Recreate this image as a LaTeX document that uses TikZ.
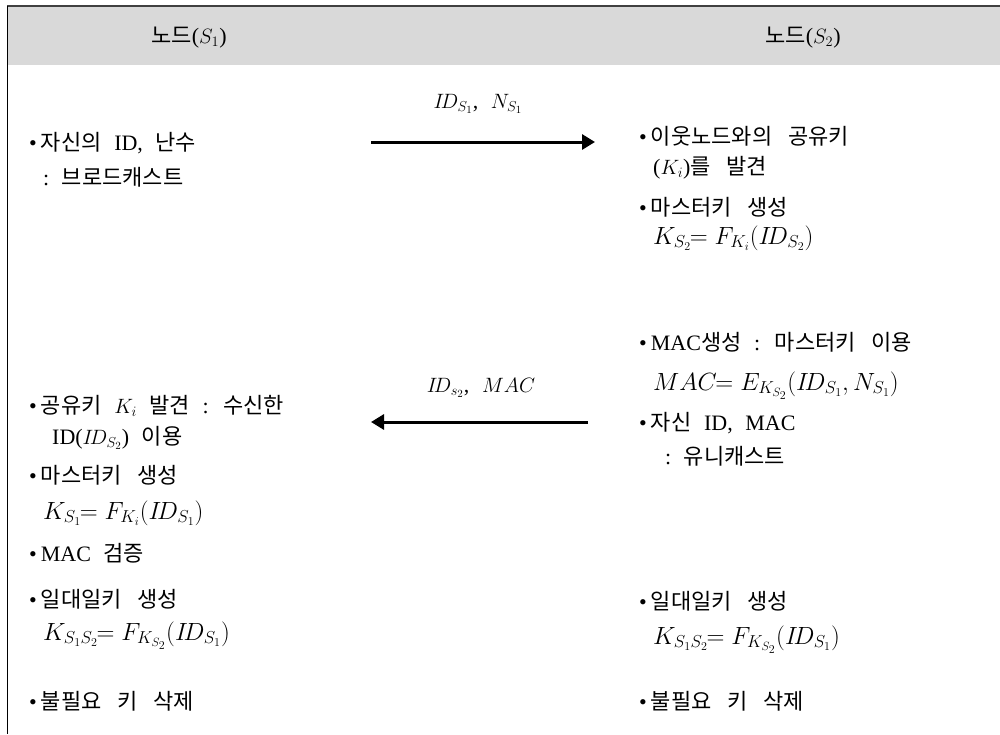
\documentclass[tikz,border=0pt]{standalone}
\usepackage{fontspec}
\setmainfont{Liberation Serif}[WordSpace=2.3]
\newfontfamily\krfont{Noto Sans CJK KR}[Scale=1.0,WordSpace=3.2]
\usetikzlibrary{arrows.meta}
\newcommand{\kr}[1]{{\krfont #1}}
\newcommand{\itm}{\textbullet\hspace{4pt}}

\tikzset{
  ln/.style={anchor=base west,inner sep=0pt,font=\fontsize{22}{26}\selectfont},
  eq/.style={ln,font=\fontsize{23}{27}\selectfont},
  hdr/.style={anchor=base,inner sep=0pt,font=\fontsize{22}{26}\selectfont},
  msg/.style={line width=3pt,-{Triangle[length=13pt,width=15pt]}}
}

\begin{document}
\begin{tikzpicture}[x=1pt,y=-1pt]
    \useasboundingbox (0,0) rectangle (1000,734);
    % header
    \fill[gray!30] (8,6) rectangle (1000,65);
    \draw[line width=1.8pt,black!75] (7,6) -- (1000,6);
    \draw[line width=1.8pt] (7.5,6) -- (7.5,734);
    \node[hdr] (head S1) at (189,43) {\kr{노드}($S_1$)};
    \node[hdr] (head S2) at (803,43) {\kr{노드}($S_2$)};
    % messages
    \coordinate (out S1) at (371,142);
    \coordinate (in S2) at (595,142);
    \coordinate (out S2) at (588,422);
    \coordinate (in S1) at (371,422);
    \draw[msg] (out S1) -- (in S2);
    \draw[msg] (out S2) -- (in S1);
    \node[hdr] (msg 1) at (478,108) {$I\!D_{S_1}$,\ $N_{S_1}$};
    \node[hdr] (msg 2) at (481,392) {$I\!D_{s_2}$,\ $MAC$};
    % node S1
    \node[ln] (left 1) at (29,150) {\itm\kr{자신의} ID, \kr{난수}};
    \node[ln] (left 2) at (43,185) {:\ \kr{브로드캐스트}};
    \node[ln] (left 3) at (29,413) {\itm\kr{공유키} $K_i$ \kr{발견} : \kr{수신한}};
    \node[ln] (left 4) at (52,444) {ID($I\!D_{S_2}$) \kr{이용}};
    \node[ln] (left 5) at (29,483) {\itm\kr{마스터키 생성}};
    \node[eq] (left 6) at (43,519) {$K_{S_1}\!\!= F_{K_i}(I\!D_{S_1})$};
    \node[ln] (left 7) at (29,561) {\itm MAC \kr{검증}};
    \node[ln] (left 8) at (29,607) {\itm\kr{일대일키 생성}};
    \node[eq] (left 9) at (43,640) {$K_{S_1S_2}\!\!= F_{K_{S_2}}(I\!D_{S_1})$};
    \node[ln] (left 10) at (29,709) {\itm\kr{불필요 키 삭제}};
    % node S2
    \node[ln] (right 1) at (639,144) {\itm\kr{이웃노드와의 공유키}};
    \node[ln] (right 2) at (653,174) {($K_i$)\kr{를 발견}};
    \node[ln] (right 3) at (639,215) {\itm\kr{마스터키 생성}};
    \node[eq] (right 4) at (653,244) {$K_{S_2}\!\!= F_{K_i}(I\!D_{S_2})$};
    \node[ln] (right 5) at (639,350) {\itm MAC\kr{생성} : \kr{마스터키 이용}};
    \node[eq] (right 6) at (653,390) {$MAC\!\!= E_{K_{S_2}}(I\!D_{S_1}, N_{S_1})$};
    \node[ln] (right 7) at (639,430) {\itm\kr{자신} ID, MAC};
    \node[ln] (right 8) at (665,464) {:\ \kr{유니캐스트}};
    \node[ln] (right 9) at (639,609) {\itm\kr{일대일키 생성}};
    \node[eq] (right 10) at (653,644) {$K_{S_1S_2}\!\!= F_{K_{S_2}}(I\!D_{S_1})$};
    \node[ln] (right 11) at (639,709) {\itm\kr{불필요 키 삭제}};
\end{tikzpicture}
\end{document}
